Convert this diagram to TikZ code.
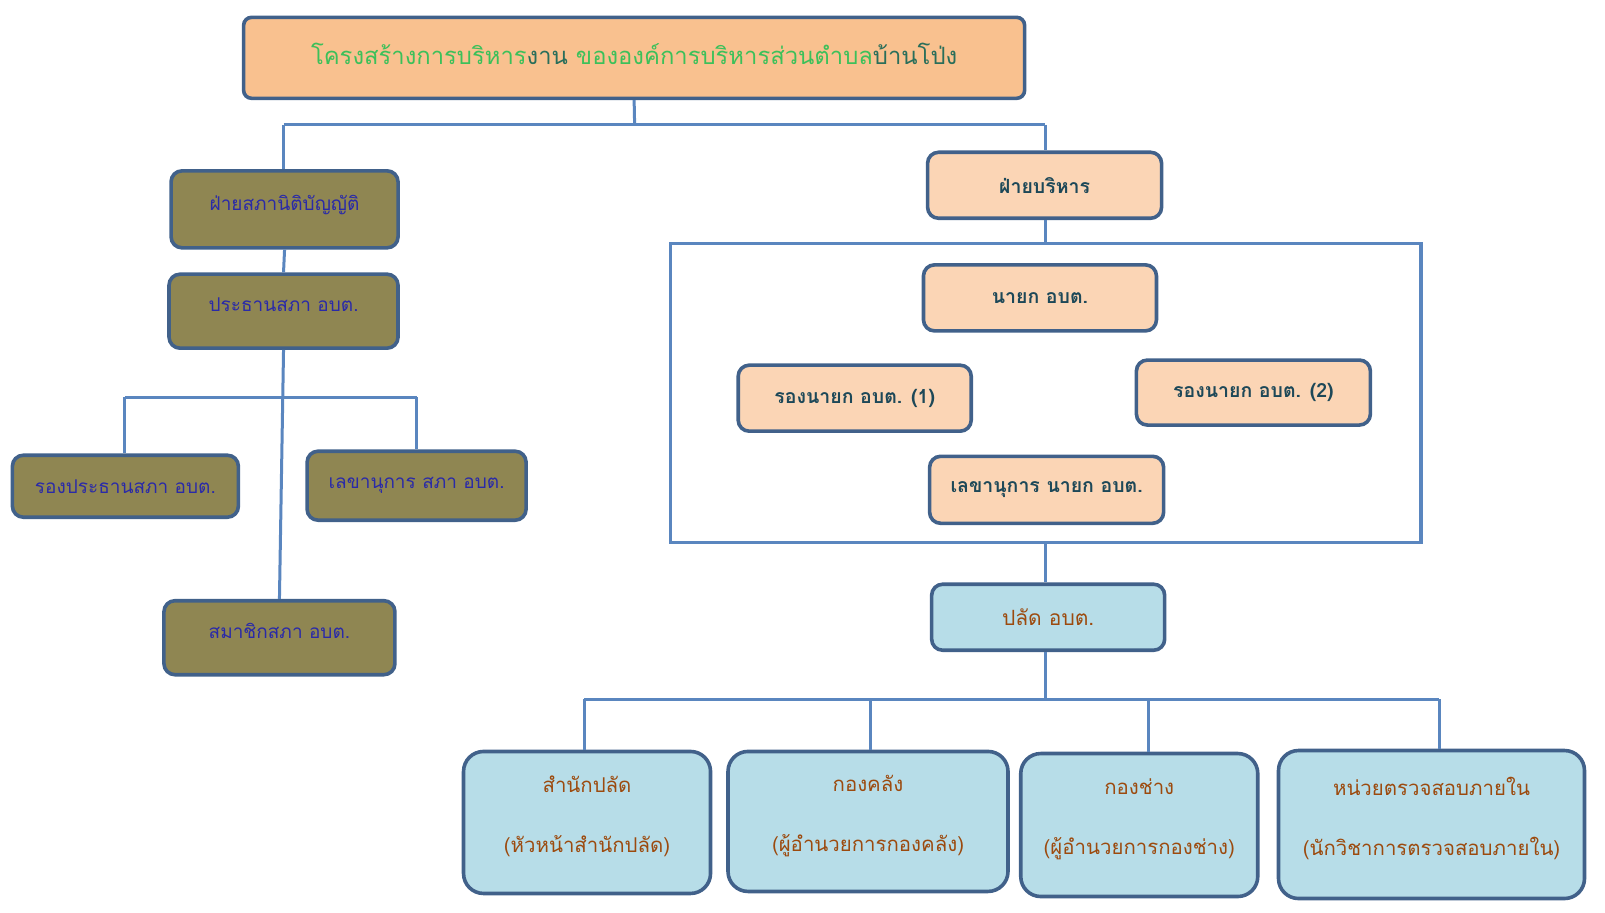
\documentclass[tikz,border=0pt]{standalone}
\usepackage{fontspec}
\newfontfamily\thai[Script=Thai]{Loma}
\definecolor{bordc}{HTML}{41618A}
\definecolor{connc}{HTML}{5A86BF}
\definecolor{olivef}{HTML}{8F8652}
\definecolor{titlef}{HTML}{F9C18F}
\definecolor{peachf}{HTML}{FBD5B5}
\definecolor{bluef}{HTML}{B7DDE8}
\definecolor{legtxt}{HTML}{2A2AA8}
\definecolor{extxt}{HTML}{1D4858}
\definecolor{subtxt}{HTML}{9C4A0E}
\definecolor{tgreen}{HTML}{3CC05A}
\definecolor{tdark}{HTML}{2A6E5A}
\tikzset{
  box/.style={draw=bordc, line width=3.6pt, rounded corners=11pt, inner sep=0pt, anchor=center},
  legbox/.style={box, fill=olivef, text=legtxt, font=\thai\fontsize{19}{23}\selectfont},
  legup/.style={legbox, text depth=13pt},
  exbox/.style={box, fill=peachf, text=extxt, font=\thai\bfseries\fontsize{19.5}{23}\selectfont},
  subbox/.style={box, fill=bluef, text=subtxt, font=\thai\fontsize{21}{25}\selectfont},
  unitbox/.style={box, fill=bluef, text=subtxt, rounded corners=20pt, align=center, text depth=16pt, font=\thai\fontsize{20.4}{60}\selectfont},
  conn/.style={draw=connc, line width=3pt},
}
\begin{document}
\begin{tikzpicture}[x=1.0236pt,y=-1.0236pt]
\useasboundingbox (0,0) rectangle (1568,891);
% title
\node[box, fill=titlef, rounded corners=8pt, minimum width=781pt, minimum height=81pt, text depth=9pt,
  font=\thai\fontsize{23.8}{28}\selectfont] (title) at (619.5,56.5)
  {\textcolor{tgreen}{โครงสร้างการบริหาร}\textcolor{tdark}{งาน} \textcolor{tgreen}{ขององค์การบริหารส่วนตำบล}\textcolor{tdark}{บ้านโป่ง}};
% legislative
\node[legup, minimum width=227pt, minimum height=77pt] (leg) at (278,204.5) {ฝ่ายสภานิติบัญญัติ};
\node[legup, minimum width=229pt, minimum height=74pt] (pres) at (277,304) {ประธานสภา อบต.};
\node[legbox, minimum width=226pt, minimum height=62pt] (vpres) at (122.5,475) {รองประธานสภา อบต.};
\node[legbox, minimum width=219pt, minimum height=69pt] (lsec) at (407,474.5) {เลขานุการ สภา อบต.};
\node[legup, minimum width=231pt, minimum height=74pt] (mem) at (273,623) {สมาชิกสภา อบต.};
% executive
\node[exbox, minimum width=234pt, minimum height=66pt] (exec) at (1020.5,181) {ฝ่ายบริหาร};
\draw[draw=connc, line width=3.6pt] (655,238) rectangle (1388,530);
\coordinate (rtop) at (1021,238);
\coordinate (rbot) at (1021,530);
\node[exbox, minimum width=233pt, minimum height=66pt] (mayor) at (1016,291) {นายก อบต.};
\node[exbox, minimum width=233pt, minimum height=66pt] (dep1) at (835,389) {รองนายก อบต. (1)};
\node[exbox, minimum width=234pt, minimum height=65pt] (dep2) at (1224.5,383.5) {รองนายก อบต. (2)};
\node[exbox, minimum width=234pt, minimum height=67pt] (esec) at (1022.5,478.5) {เลขานุการ นายก อบต.};
% clerk
\node[subbox, minimum width=233pt, minimum height=66pt] (clerk) at (1024,603) {ปลัด อบต.};
\node[unitbox, minimum width=247pt, minimum height=142pt] (u1) at (573.5,803.5) {สำนักปลัด\\(หัวหน้าสำนักปลัด)};
\node[unitbox, minimum width=280pt, minimum height=140pt] (u2) at (848,802.5) {กองคลัง\\(ผู้อำนวยการกองคลัง)};
\node[unitbox, minimum width=237pt, minimum height=143pt] (u3) at (1113,806) {กองช่าง\\(ผู้อำนวยการกองช่าง)};
\node[unitbox, minimum width=306pt, minimum height=148pt] (u4) at (1398.5,805.5) {หน่วยตรวจสอบภายใน\\(นักวิชาการตรวจสอบภายใน)};
% connectors top
\coordinate (tj) at (620,122);
\coordinate (tl) at (277,122);
\coordinate (tr) at (1021,122);
\draw[conn] (title.south) -- (tj);
\draw[conn] (tl) -- (tr);
\draw[conn] (tl) -- (leg.north -| tl);
\draw[conn] (tr) -- (exec.north -| tr);
\draw[conn] (leg.south) -- (pres.north);
% legislative tree
\coordinate (hl) at (122,388);
\coordinate (hr) at (407,388);
\draw[conn] (pres.south) -- (mem.north);
\draw[conn] (hl) -- (hr);
\draw[conn] (hl) -- (vpres.north -| hl);
\draw[conn] (hr) -- (lsec.north -| hr);
% executive
\draw[conn] (exec.south -| rtop) -- (rtop);
\draw[conn] (rbot) -- (clerk.north -| rbot);
\coordinate (cj) at (1021,683);
\coordinate (c1) at (571,683);
\coordinate (c2) at (850,683);
\coordinate (c3) at (1122,683);
\coordinate (c4) at (1406,683);
\draw[conn] (clerk.south -| cj) -- (cj);
\draw[conn] (c1) -- (c4);
\draw[conn] (c1) -- (u1.north -| c1);
\draw[conn] (c2) -- (u2.north -| c2);
\draw[conn] (c3) -- (u3.north -| c3);
\draw[conn] (c4) -- (u4.north -| c4);
\end{tikzpicture}
\end{document}
